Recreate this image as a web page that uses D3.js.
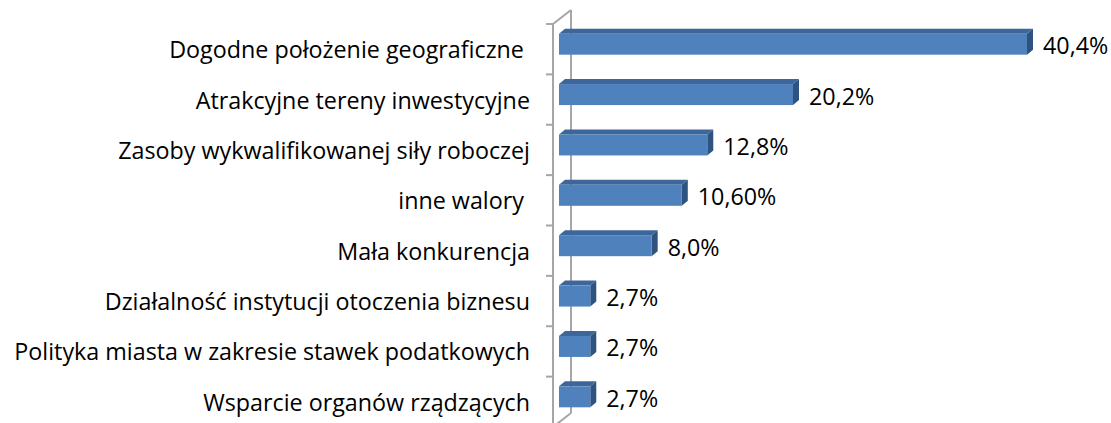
<!DOCTYPE html>
<html>
<head>
<meta charset="utf-8">
<script src="https://cdn.jsdelivr.net/npm/d3@7"></script>
<style>
  html, body { margin: 0; padding: 0; background: #fff; }
  svg { display: block; }
  text { font-family: "Open Sans", "Liberation Sans", sans-serif; fill: #000; }
</style>
</head>
<body>
<svg id="chart" width="1111" height="423"></svg>
<script>
// Categories (top to bottom) and their shares in percent
const categories = [
  "Dogodne położenie geograficzne ",
  "Atrakcyjne tereny inwestycyjne",
  "Zasoby wykwalifikowanej siły roboczej",
  "inne walory ",
  "Mała konkurencja",
  "Działalność instytucji otoczenia biznesu",
  "Polityka miasta w zakresie stawek podatkowych",
  "Wsparcie organów rządzących"
];
const values = [40.4, 20.2, 12.8, 10.6, 8.0, 2.7, 2.7, 2.7];
const valueLabels = ["40,4%", "20,2%", "12,8%", "10,60%", "8,0%", "2,7%", "2,7%", "2,7%"];

const svg = d3.select("#chart");

// Geometry of the pseudo-3D plot area
const frontX = 553, backX = 571;     // front and back wall lines
const depthDY = -14;                 // wall depth (vertical part)
const barDX = 6, barDY = -5;         // bar depth
const barH = 21;
const fontSize = 23.3;

const y = d3.scaleBand().domain(categories).range([24, 427]).padding(0);
const x = d3.scaleLinear().domain([0, 40.4]).range([559, 1027]);

const axisColor = "#a6a6a6";
const g = svg.append("g");

// Back wall line
g.append("line")
  .attr("x1", backX).attr("x2", backX)
  .attr("y1", y.range()[0] + depthDY).attr("y2", y.range()[1] + depthDY)
  .attr("stroke", axisColor).attr("stroke-width", 2);
// Top and bottom depth edges
[y.range()[0], y.range()[1]].forEach(yy => {
  g.append("line")
    .attr("x1", frontX).attr("y1", yy)
    .attr("x2", backX).attr("y2", yy + depthDY)
    .attr("stroke", axisColor).attr("stroke-width", 2);
});
// Front wall line with category ticks
g.append("line")
  .attr("x1", frontX).attr("x2", frontX)
  .attr("y1", y.range()[0]).attr("y2", y.range()[1])
  .attr("stroke", axisColor).attr("stroke-width", 2);
const tickYs = categories.map(c => y(c)).concat([y.range()[1]]);
g.selectAll("line.tick").data(tickYs).join("line")
  .attr("class", "tick")
  .attr("x1", frontX - 7).attr("x2", frontX)
  .attr("y1", d => d).attr("y2", d => d)
  .attr("stroke", axisColor).attr("stroke-width", 2);

// Bars: front, top and side faces
const rows = categories.map((c, i) => ({ c, v: values[i], label: valueLabels[i] }));
const barTop = d => y(d.c) + y.bandwidth() / 2 - 5 - barH / 2;
const x0 = x(0);

const bars = g.selectAll("g.bar").data(rows).join("g").attr("class", "bar");
bars.append("path")
  .attr("fill", "#3d679a")
  .attr("d", d => {
    const t = barTop(d), x1 = x(d.v);
    return `M${x0},${t} L${x0 + barDX},${t + barDY} L${x1 + barDX},${t + barDY} L${x1},${t} Z`;
  });
bars.append("path")
  .attr("fill", "#2f5380")
  .attr("d", d => {
    const t = barTop(d), x1 = x(d.v);
    return `M${x1},${t} L${x1 + barDX},${t + barDY} L${x1 + barDX},${t + barDY + barH} L${x1},${t + barH} Z`;
  });
bars.append("rect")
  .attr("fill", "#4f81bd")
  .attr("x", x0).attr("y", d => barTop(d))
  .attr("width", d => x(d.v) - x0).attr("height", barH);

// Value labels
bars.append("text")
  .attr("x", d => x(d.v) + 16)
  .attr("y", d => barTop(d) + barH / 2 + 1)
  .attr("dominant-baseline", "central")
  .attr("font-size", fontSize)
  .text(d => d.label);

// Category labels
g.selectAll("text.cat").data(categories).join("text")
  .attr("class", "cat")
  .attr("x", 530)
  .attr("y", d => y(d) + y.bandwidth() / 2)
  .attr("text-anchor", "end")
  .attr("dominant-baseline", "central")
  .attr("font-size", fontSize)
  .attr("xml:space", "preserve")
  .text(d => d);
</script>
</body>
</html>
